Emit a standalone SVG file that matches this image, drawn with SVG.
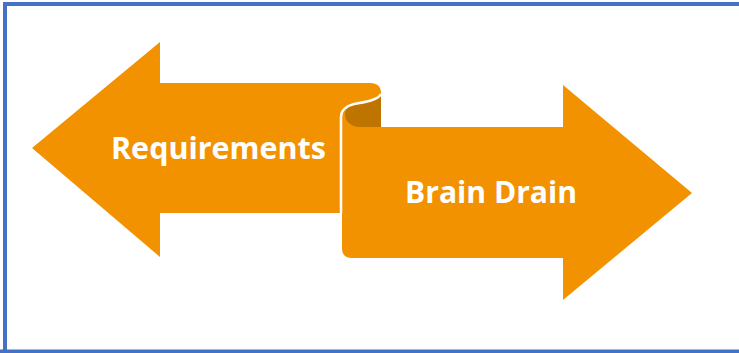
<svg xmlns="http://www.w3.org/2000/svg" width="739" height="353" viewBox="0 0 739 353">
<style>
.orange{fill:#F39200;}
.dark{fill:#C07400;}
.edge{fill:none;stroke:#FFFFFF;stroke-width:2.5;}
.lbl{font-family:"Open Sans","Liberation Sans",sans-serif;font-weight:bold;font-size:30px;fill:#FFFFFF;}
</style>
<rect x="0" y="0" width="739" height="353" fill="#FFFFFF"/>
<g id="frame">
<path d="M5,353 L5,4 L739,4" fill="none" stroke="#4472C4" stroke-width="4"/>
<line x1="0" y1="351.5" x2="739" y2="351.5" stroke="#4472C4" stroke-width="4"/>
</g>
<g id="requirements">
<path class="orange" d="M32,148 L160,42 L160,83 L370,83 Q381,83 381,93 L381,213 L160,213 L160,257 Z"/>
<text class="lbl" x="111" y="159" textLength="215" lengthAdjust="spacingAndGlyphs">Requirements</text>
</g>
<g id="brain-drain">
<path class="dark" d="M381,94 C378,100 366,102 354,104 C346,106 341,111 342,117 L342,128 L381,128 Z"/>
<path class="orange" d="M354,104 C346,106 341,111 342,117 L342,248 Q342,258 352,258 L563,258 L563,300 L692,193 L563,85 L563,127 L360,127 C351,127 345,121 345,115 C345,110 348,106 354,104 Z"/>
<path class="edge" d="M381,94 C378,100 366,102 354,104 C346,106 341,111 341,117 L341,214"/>
<text class="lbl" x="405" y="203" textLength="172" lengthAdjust="spacingAndGlyphs">Brain Drain</text>
</g>
</svg>
